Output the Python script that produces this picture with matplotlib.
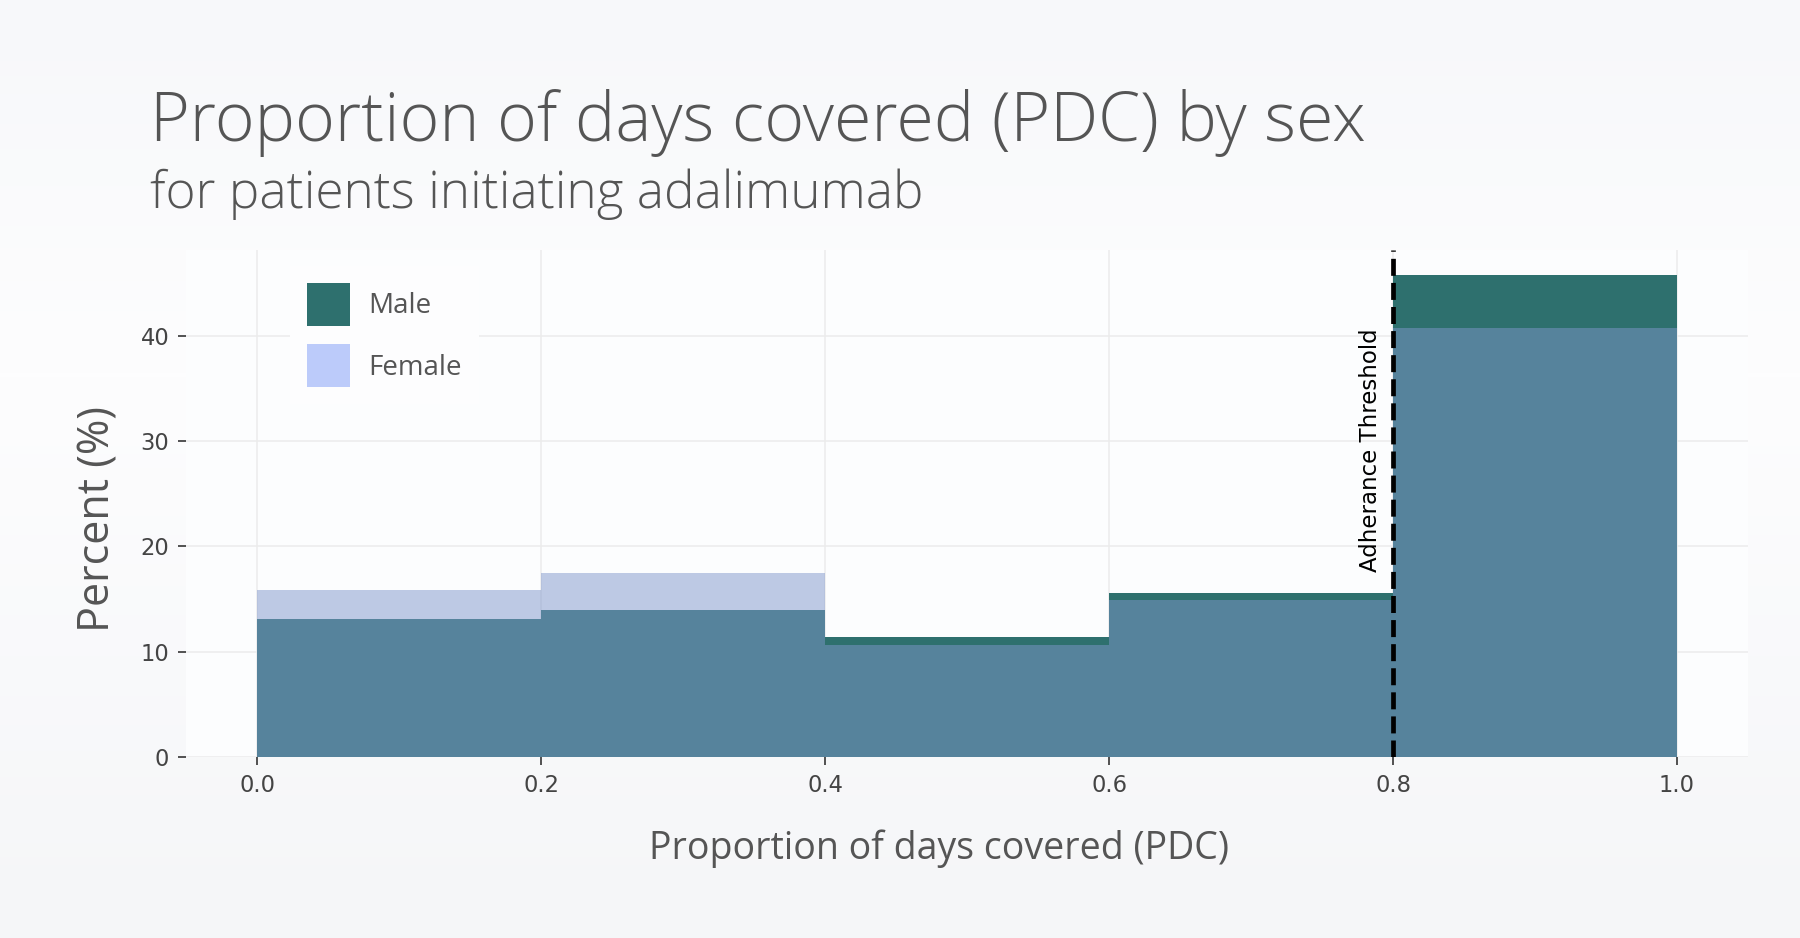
import numpy as np
import matplotlib
matplotlib.use("Agg")
import matplotlib.pyplot as plt
from matplotlib.patches import Patch

# ---------------- data ----------------
bin_edges = [0.0, 0.2, 0.4, 0.6, 0.8, 1.0]
male_pct = [13.1, 13.95, 11.35, 15.55, 45.8]
female_pct = [15.85, 17.45, 10.65, 14.95, 40.8]
series_names = ["Male", "Female"]
x_ticks = [0.0, 0.2, 0.4, 0.6, 0.8, 1.0]
x_tick_labels = ["0.0", "0.2", "0.4", "0.6", "0.8", "1.0"]
y_ticks = [0, 10, 20, 30, 40]
threshold = 0.8

title = "Proportion of days covered (PDC) by sex"
subtitle = "for patients initiating adalimumab"
x_label = "Proportion of days covered (PDC)"
y_label = "Percent (%)"
annot_text = "Adherance Threshold"

# ---------------- style ----------------
W, H, DPI = 1800, 938, 100
MALE_C = "#2e706e"
FEMALE_C = "#7f96cb"
FEMALE_LEG = "#bccbfa"
TXT = "#555555"
TICK_C = "#444444"
GRID_C = "#ececec"
OPEN = ["Open Sans", "DejaVu Sans"]

fig = plt.figure(figsize=(W / DPI, H / DPI), dpi=DPI)

# background vertical gradient
bg = fig.add_axes([0, 0, 1, 1], zorder=-10)
ys = np.linspace(0, 1, 256)
top_c = np.array([247, 248, 250]) / 255
mid_c = np.array([253, 253, 254]) / 255
bot_c = np.array([245, 246, 248]) / 255
cols = np.empty((256, 3))
for i, t in enumerate(ys):
    if t < 0.4:
        f = t / 0.4
        cols[i] = top_c * (1 - f) + mid_c * f
    else:
        f = (t - 0.4) / 0.6
        cols[i] = mid_c * (1 - f) + bot_c * f
bg.imshow(cols[:, None, :], aspect="auto", extent=[0, 1, 0, 1], origin="upper")
bg.set_axis_off()

# main axes (pixel geometry)
left, right = 186.4, 1748
top_px, zero_px = 250, 756.7
ax = fig.add_axes([left / W, 1 - zero_px / H, (right - left) / W, (zero_px - top_px) / H])
ax.set_facecolor((252 / 255, 253 / 255, 254 / 255))

lefts = bin_edges[:-1]
widths = np.diff(bin_edges)
ax.bar(lefts, male_pct, width=widths, align="edge", color=MALE_C, linewidth=0, zorder=2)
ax.bar(lefts, female_pct, width=widths, align="edge", color=FEMALE_C, alpha=0.5, linewidth=0, zorder=3)

ax.set_xlim(-0.05, 1.05)
ax.set_ylim(0, 48.2)
ax.set_xticks(x_ticks)
ax.set_xticklabels(x_tick_labels)
ax.set_yticks(y_ticks)
ax.grid(True, color=GRID_C, linewidth=1.1, zorder=0)
ax.set_axisbelow(True)
for s in ax.spines.values():
    s.set_visible(False)
ax.tick_params(axis="both", direction="out", length=5.8, width=1.3, color=TICK_C,
               labelcolor=TICK_C, labelsize=16.3, pad=6.5)
for lab in ax.get_xticklabels() + ax.get_yticklabels():
    lab.set_family("DejaVu Sans")

# threshold line and annotation
ax.axvline(threshold, color="black", linewidth=3.4, linestyle=(0, (3.6, 1.5)), zorder=5)
ax.annotate(annot_text, xy=(threshold, 17.55), xytext=(-11, 0), textcoords="offset pixels",
            rotation=90, ha="right", va="bottom", fontsize=16.5, family="DejaVu Sans",
            color="black", zorder=6)

# legend
handles = [Patch(facecolor=MALE_C, edgecolor="none"), Patch(facecolor=FEMALE_LEG, edgecolor="none")]
leg = ax.legend(handles, series_names, loc="upper left",
                bbox_to_anchor=(290 / W, 1 - 266 / H), bbox_transform=fig.transFigure,
                borderaxespad=0, frameon=True, fancybox=False, framealpha=1,
                facecolor="#fdfdfe", edgecolor="none",
                prop={"family": OPEN, "size": 20}, labelcolor=TXT,
                handlelength=1.55, handleheight=2.0, handletextpad=0.68,
                labelspacing=0.68, borderpad=0.6)
leg.set_zorder(10)

# titles
fig.text(150 / W, 1 - 141 / H, title, ha="left", va="baseline", fontsize=49,
         family=OPEN, fontweight="light", color=TXT)
fig.text(150 / W, 1 - 207.7 / H, subtitle, ha="left", va="baseline", fontsize=36.9,
         family=OPEN, fontweight="light", color=TXT)
fig.text(939 / W, 1 - 859.3 / H, x_label, ha="center", va="baseline", fontsize=27,
         family=OPEN, color=TXT)
fig.text(98 / W, 1 - 519 / H, y_label, ha="center", va="center", rotation=90,
         fontsize=31, family=OPEN, color=TXT)

fig.savefig("out.png", dpi=DPI)
